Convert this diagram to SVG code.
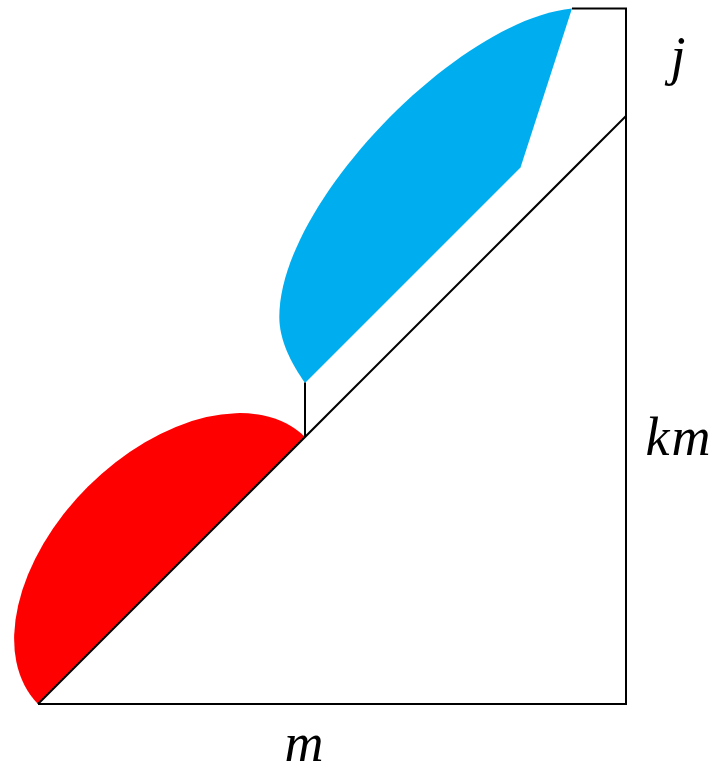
<svg xmlns="http://www.w3.org/2000/svg" width="718" height="774" viewBox="0 0 718 774">
  <style>
    .ln { fill: none; stroke: #000000; stroke-width: 2; stroke-linecap: butt; stroke-linejoin: miter; }
    .lbl { font-family: "Liberation Serif", "DejaVu Serif", serif; font-style: italic; font-size: 54px; fill: #000000; text-anchor: middle; }
  </style>
  <rect x="0" y="0" width="718" height="774" fill="#ffffff"/>
  <g id="red-region">
    <path d="M 38 704 A 188.8 119 -45 0 1 305 437 Z" fill="#FF0000"/>
  </g>
  <g id="blue-region">
    <path d="M 305 383 C 291 363 279.3 340 279.3 317 C 279.3 203 458 19.7 572 8.5 L 520.5 167.5 Z" fill="#00AEEF"/>
  </g>
  <g id="connectors">
    <path class="ln" d="M 38 704 L 626 704 L 626 8.5 L 572 8.5"/>
    <path class="ln" d="M 38 704 L 626 116"/>
    <path class="ln" d="M 305 437 L 305 382.5"/>
  </g>
  <g id="label-j">
    <text class="lbl" x="678" y="74">j</text>
  </g>
  <g id="label-km">
    <text class="lbl" x="679" y="455" letter-spacing="2">km</text>
  </g>
  <g id="label-m">
    <text class="lbl" x="304" y="761">m</text>
  </g>
</svg>
